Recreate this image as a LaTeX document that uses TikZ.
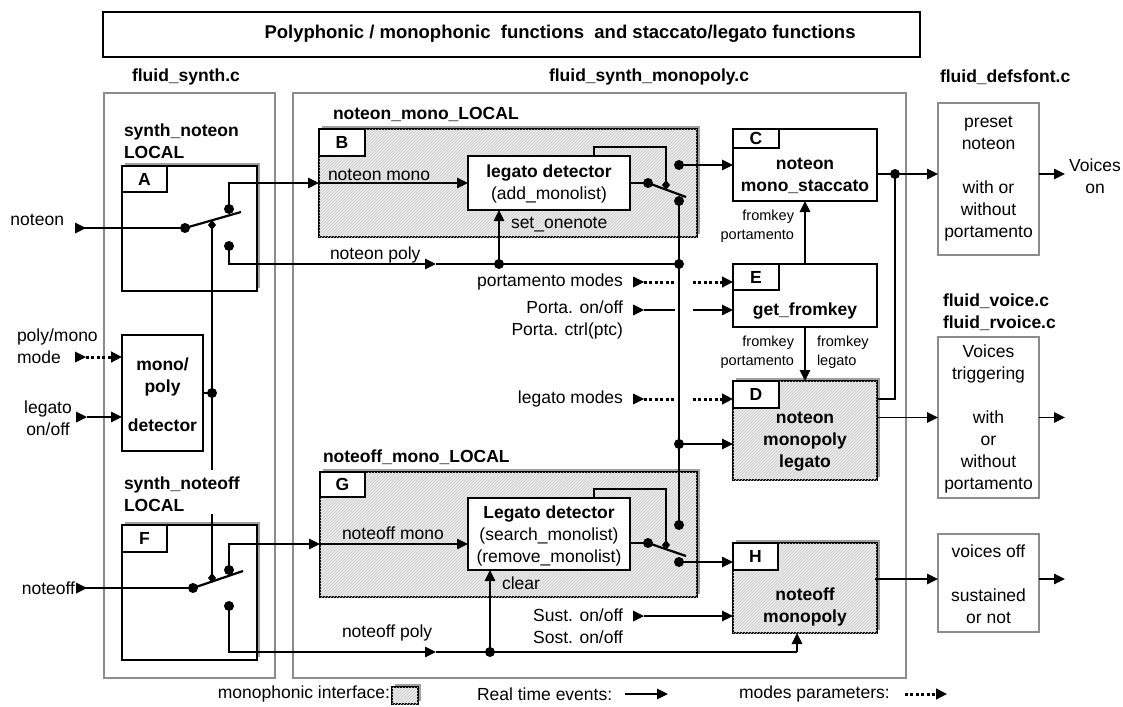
\documentclass[tikz,border=0pt]{standalone}
\usepackage{fontspec}
\setmainfont{Liberation Sans}
\usetikzlibrary{arrows.meta,shadows,patterns,shapes.geometric}
\definecolor{fgray}{RGB}{140,140,140}
\definecolor{mfill}{RGB}{234,234,234}
\definecolor{hatch}{RGB}{205,205,205}
\definecolor{shgray}{RGB}{160,160,160}
\begin{document}
\begin{tikzpicture}[x=1pt,y=-1pt,
  every node/.style={inner sep=0pt,outer sep=0pt},
  T/.style={font=\fontsize{17.5}{22}\selectfont,align=center},
  BT/.style={font=\fontsize{17.5}{22}\selectfont\bfseries,align=center},
  ST/.style={font=\fontsize{14.5}{19}\selectfont,align=center},
  filebox/.style={draw=fgray,line width=2pt,rectangle,anchor=north west},
  heavy/.style={draw,line width=2pt,fill=white,anchor=north west,
     drop shadow={shadow xshift=3pt,shadow yshift=3pt,fill=shgray,opacity=1}},
  mono/.style={heavy,fill=mfill,postaction={pattern=north east lines,pattern color=hatch}},
  thinbox/.style={draw,line width=1.3pt,fill=white,anchor=north west},
  lbl/.style={thinbox,font=\fontsize{17.5}{22}\selectfont\bfseries},
  conn/.style={line width=1.3pt},
  lever/.style={line width=2.2pt},
  dotted line/.style={line width=3pt,dash pattern=on 3pt off 2.4pt},
  arr/.style={-{Triangle[length=11pt,width=10.5pt]}},
  dot/.style={circle,fill,minimum size=10pt},
  dmd/.style={diamond,fill,minimum width=8pt,minimum height=10pt},
  starttri/.pic={\fill (0,-5.5) -- (11,0) -- (0,5.5) -- cycle;}]
\useasboundingbox (0,0) rectangle (1123,706);

% ---------- file boxes and title ----------
\node[draw,line width=1.3pt,anchor=north west,minimum width=817,minimum height=45] (title) at (103,12) {};
\node[font=\fontsize{18.5}{22}\selectfont\bfseries] at (560,34) {Polyphonic / monophonic~ functions~ and staccato/legato functions};
\node[filebox,minimum width=171,minimum height=585] (FS) at (104,93) {};
\node[filebox,minimum width=613,minimum height=585] (FM) at (293,93) {};
\node[BT] at (186,77) {fluid\_synth.c};
\node[BT,anchor=west] at (549,77) {fluid\_synth\_monopoly.c};
\node[BT,anchor=west] at (940,77) {fluid\_defsfont.c};
\node[BT,align=left,anchor=west] at (943,312) {fluid\_voice.c\\fluid\_rvoice.c};

% ---------- left column ----------
\node[BT,align=left,anchor=west] at (124,141) {synth\_noteon\\LOCAL};
\node[heavy,minimum width=135,minimum height=125] (A) at (122,166) {};
\node[lbl,minimum width=45,minimum height=26] (Al) at (122,166) {A};
\node[thinbox,line width=1.6pt,minimum width=81,minimum height=116] (MP) at (122,335) {};
\node[BT] at (162.5,395) {mono/\\poly\\[17pt]detector};
\node[BT,align=left,anchor=west] at (124,494) {synth\_noteoff\\LOCAL};
\node[heavy,minimum width=135,minimum height=135] (F) at (122,525) {};
\node[lbl,minimum width=45,minimum height=27] (Fl) at (122,525) {F};

% ---------- middle ----------
\node[BT,anchor=west] at (333,114) {noteon\_mono\_LOCAL};
\node[mono,minimum width=378,minimum height=108] (B) at (319,129) {};
\node[lbl,minimum width=46,minimum height=27] (Bl) at (319,129) {B};
\node[thinbox,minimum width=162,minimum height=54] (LD1) at (468,156) {};
\node[BT] at (549,184) {legato detector\\{\mdseries(add\_monolist)}};

\node[BT,anchor=west] at (323,457) {noteoff\_mono\_LOCAL};
\node[mono,minimum width=377,minimum height=125] (G) at (320,472) {};
\node[lbl,minimum width=45,minimum height=25] (Gl) at (320,472) {G};
\node[thinbox,minimum width=162,minimum height=72] (LD2) at (468,498) {};
\node[BT] at (549,536) {Legato detector\\{\mdseries(search\_monolist)}\\{\mdseries(remove\_monolist)}};

\node[thinbox,minimum width=144,minimum height=72] (C) at (733,129) {};
\node[lbl,minimum width=46,minimum height=19] (Cl) at (733,129) {C};
\node[BT] at (805,176) {noteon\\mono\_staccato};
\node[thinbox,minimum width=144,minimum height=63] (E) at (733,264) {};
\node[lbl,minimum width=46,minimum height=26] (El) at (733,264) {E};
\node[BT] at (805,311) {get\_fromkey};
\node[mono,minimum width=144,minimum height=99] (D) at (733,381) {};
\node[lbl,minimum width=46,minimum height=27] (Dl) at (733,381) {D};
\node[BT] at (805,442) {noteon\\monopoly\\legato};
\node[mono,minimum width=144,minimum height=90] (H) at (733,543) {};
\node[lbl,minimum width=45,minimum height=27] (Hl) at (733,543) {H};
\node[BT] at (805,607) {noteoff\\monopoly};

% ---------- right column ----------
\node[filebox,fill=white,minimum width=101,minimum height=152] (P) at (938,103) {};
\node[T] at (P.center) {preset\\noteon\\~\\with or\\without\\portamento};
\node[filebox,fill=white,minimum width=101,minimum height=161] (VT) at (938,337) {};
\node[T] at ([yshift=-1pt]VT.center) {Voices\\triggering\\~\\with\\or\\without\\portamento};
\node[filebox,fill=white,minimum width=101,minimum height=98] (VO) at (938,534) {};
\node[T] at ([yshift=-1pt]VO.center) {voices off\\~\\sustained\\or not};
\node[T] at (1095,176) {Voices\\on};

% ---------- labels ----------
\node[T,anchor=east] at (64,220) {noteon};
\node[T,anchor=east] at (75,588) {noteoff};
\node[T,align=left,anchor=west] at (17,346) {poly/mono\\mode};
\node[T] at (48,418) {legato\\on/off};
\node[T,anchor=base west] at (328,180) {noteon mono};
\node[T,anchor=base west] at (330,259) {noteon poly};
\node[T,anchor=west] at (511,225) {set\_onenote};
\node[T,anchor=west] at (342,533) {noteoff mono};
\node[T,anchor=west] at (342,633) {noteoff poly};
\node[T,anchor=west] at (502,583) {clear};
\node[T,anchor=east] at (623,282) {portamento modes};
\node[T,align=right,anchor=east] at (623,320) {Porta. on/off\\Porta. ctrl(ptc)};
\node[T,anchor=east] at (623,399) {legato modes};
\node[T,align=right,anchor=east] at (623,626) {Sust. on/off\\Sost. on/off};
\node[ST,align=right,anchor=east] at (794,226) {fromkey\\portamento};
\node[ST,align=right,anchor=east] at (794,352) {fromkey\\portamento};
\node[ST,align=left,anchor=west] at (817,352) {fromkey\\legato};

% ---------- coordinates / dots ----------
\coordinate (inA) at (75,228);
\node[dot] (pA) at (185,228) {};
\node[dot] (uA) at (229,209) {};
\node[dot] (lA) at (229,246) {};
\coordinate (eA) at (241,212);
\node[dmd] (dA) at (212,225) {};
\coordinate (mpA) at (436,264);
\node[dot] (jS) at (499,264) {};
\node[dot] (jR1) at (679,264) {};
\node[dot] (jMP) at (212,393) {};
\coordinate (brk1) at (212,470);
\coordinate (brk2) at (212,514);

\coordinate (inF) at (76,588);
\node[dot] (pF) at (193,588) {};
\node[dot] (uF) at (229,570) {};
\node[dot] (lF) at (229,606) {};
\coordinate (eF) at (243,571);
\node[dmd] (dF) at (212,578) {};
\coordinate (gIn) at (320,544);
\coordinate (mpF) at (436,652);
\node[dot] (jCl) at (490,652) {};
\coordinate (hb) at (797,652);

\node[dot] (pB) at (648,183) {};
\node[dot] (uB) at (679,165) {};
\node[dot] (lB) at (679,201) {};
\coordinate (eB) at (686,197);
\node[dmd] (dB) at (666,185) {};
\coordinate (cB) at (594,147);
\node[dot] (jD) at (679,444) {};

\node[dot] (pG) at (648,543) {};
\node[dot] (uG) at (679,525) {};
\node[dot] (lG) at (679,562) {};
\coordinate (eG) at (686,556);
\node[dmd] (dG) at (666,545) {};
\coordinate (cG) at (594,489);

\node[dot] (jC) at (895,174) {};
\coordinate (dO1) at (895,399);
\coordinate (vOn) at (1065,174);
\coordinate (hO) at (875,579);

\coordinate (pm1) at (633,282);
\coordinate (pm2) at (675,282);
\coordinate (pm3) at (693,282);
\coordinate (po1) at (633,310);
\coordinate (po2) at (675,310);
\coordinate (po3) at (693,310);
\coordinate (lm1) at (633,399);
\coordinate (lm2) at (675,399);
\coordinate (lm3) at (693,399);
\coordinate (st1) at (633,616);
\coordinate (pmm) at (75,357);
\coordinate (lgo) at (76,417);

% start triangles
\foreach \c in {inA,inF,pm1,po1,lm1,st1,pmm,lgo} {\pic at (\c) {starttri};}

% ---------- connectors: switch A ----------
\draw[conn] (inA) -- (pA);
\draw[lever] (pA.center) -- (eA);
\draw[conn,arr] (uA.center) |- (B.west);
\draw[conn,arr] (B.west) -- (LD1.west);
\draw[conn,arr] (lA.center) |- (mpA);
\draw[conn] (mpA) -- (jS.center) -- (jR1.center);
\draw[conn,arr] (jS.center) -- (jS |- LD1.south);
\draw[conn] (dA.center) -- (jMP.center) -- (brk1);
\draw[conn] (brk2) -- (dF.center);
\draw[conn] (MP.east |- jMP) -- (jMP.center);
\draw[conn,dotted line,arr] ([xshift=11pt]pmm) -- (pmm -| MP.west);
\draw[conn,arr] ([xshift=11pt]lgo) -- (lgo -| MP.west);

% ---------- switch B ----------
\draw[conn] (LD1.east) -- (pB.center);
\draw[lever] (pB.center) -- (eB);
\draw[conn,arr] (uB.center) -- (C.west);
\draw[conn] (lB.center) -- (jR1.center) -- (jD.center) -- (uG.center);
\draw[conn] (dB.center) |- (cB) -- (cB |- LD1.north);
\draw[conn,arr] (jD.center) -- (jD -| D.west);

% ---------- parameters ----------
\draw[conn,dotted line] ([xshift=11pt]pm1) -- (pm2);
\draw[conn,dotted line,arr] (pm3) -- (pm3 -| E.west);
\draw[conn] ([xshift=11pt]po1) -- (po2);
\draw[conn,arr] (po3) -- (po3 -| E.west);
\draw[conn,dotted line] ([xshift=11pt]lm1) -- (lm2);
\draw[conn,dotted line,arr] (lm3) -- (lm3 -| D.west);
\draw[conn,arr] ([xshift=11pt]st1) -- (st1 -| H.west);
\draw[conn,arr] (E.north) -- (C.south);
\draw[conn,arr] (E.south) -- (D.north);

% ---------- outputs ----------
\draw[conn] (C.east |- jC) -- (jC.center);
\draw[conn,arr] (jC.center) -- (jC -| P.west);
\draw[conn] (dO1 -| D.east) -- (dO1) -- (jC.center);
\draw[conn,arr] (D.east |- VT.west) -- (VT.west);
\draw[conn,arr] (P.east |- jC) -- (vOn);
\draw[conn,arr] (VT.east) -- (VT.east -| vOn);
\draw[conn,arr] (hO) -- (hO -| VO.west);
\draw[conn,arr] (VO.east |- hO) -- (hO -| vOn);

% ---------- switch F / G ----------
\draw[conn] (inF) -- (pF);
\draw[lever] (pF.center) -- (eF);
\draw[conn,arr] (uF.center) |- (gIn);
\draw[conn,arr] (gIn) -- (gIn -| LD2.west);
\draw[conn,arr] (lF.center) |- (mpF);
\draw[conn] (mpF) -- (jCl.center) -- (hb);
\draw[conn,arr] (hb) -- (hb |- H.south);
\draw[conn,arr] (jCl.center) -- (jCl |- LD2.south);
\draw[conn] (LD2.east |- pG) -- (pG.center);
\draw[lever] (pG.center) -- (eG);
\draw[conn,arr] (lG.center) -- (lG -| H.west);
\draw[conn] (dG.center) |- (cG) -- (cG |- LD2.north);

% ---------- legend ----------
\node[T,anchor=east] (lg1) at (390,694) {monophonic interface:};
\node[mono,minimum width=26,minimum height=17] (lgb) at (392,687) {};
\node[T,anchor=west] (lg2) at (477,694) {Real time events:};
\coordinate (la1) at (625,694);
\coordinate (la2) at (668,694);
\draw[conn,arr] (la1) -- (la2);
\node[T,anchor=west] (lg3) at (739,694) {modes parameters:};
\coordinate (lb1) at (905,694);
\coordinate (lb2) at (947,694);
\draw[conn,dotted line,arr] (lb1) -- (lb2);
\end{tikzpicture}
\end{document}
